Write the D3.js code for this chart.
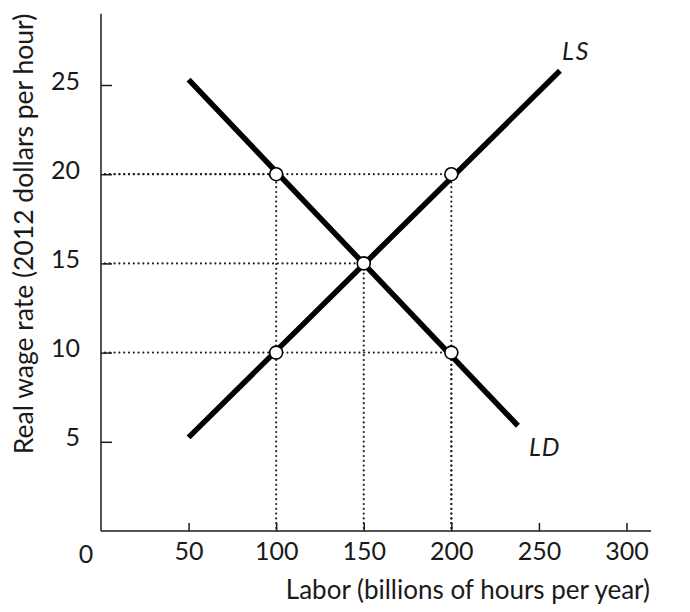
<!DOCTYPE html>
<html>
<head>
<meta charset="utf-8">
<script src="https://cdn.jsdelivr.net/npm/d3@7"></script>
<style>
	body { margin: 0; background: #fff; }
	svg { display: block; }
	.text { font-family: Lato, "Open Sans", sans-serif; fill: #1a1a1a; }
</style>
</head>
<body>
<script>
// curves (labor in billions of hours, wage in 2012 $)
const supplyPts = [[50, 5.25], [262, 25.8]];
const demandPts = [[50, 25.3], [238, 5.9]];

// points marked with a circle
const pointsLabor = [100, 150, 200, 100, 200];
const pointsWage = [20, 15, 20, 10, 10];

// dotted guides : [labor, wage]
const guides = [[100, 20], [150, 15], [200, 20], [200, 10]];

const xTicks = [50, 100, 150, 200, 250, 300];
const yTicks = [5, 10, 15, 20, 25];

const xTitle = "Labor (billions of hours per year)";
const yTitle = "Real wage rate (2012 dollars per hour)";

const size_graph = {x: 690, y: 612};

const svg = d3.select("body")
	.append('svg')
	.attr("width", size_graph.x)
	.attr("height", size_graph.y);

var x = d3.scaleLinear().domain([0, 300]).range([101, 626.5]);
var y = d3.scaleLinear().domain([0, 25]).range([531, 85]);

// dotted lines first, they are under everything
let dotted = function (d) {
	svg.append('path')
		.attr('d', d)
		.attr('fill', 'none')
		.attr('stroke', '#222')
		.attr('stroke-width', 2.2)
		.attr('stroke-linecap', 'round')
		.attr('stroke-dasharray', '0,4.8');
}
guides.forEach(function (g) {
	dotted(`M${x(0) + 4},${y(g[1])}H${x(g[0])}`);
	dotted(`M${x(g[0])},${y(0) - 3}V${y(g[1])}`);
});

// axes
let yAxis = d3.axisLeft(y).tickValues(yTicks).tickSize(-11).tickSizeOuter(0).tickPadding(21);
let xAxis = d3.axisBottom(x).tickValues(xTicks).tickSize(-8).tickSizeOuter(0);

let gy = svg.append('g')
	.attr('transform', `translate(${x(0)},0)`)
	.call(yAxis);
gy.select('.domain').remove();
gy.selectAll('line').attr('stroke', '#1a1a1a').attr('stroke-width', 1.5);
gy.selectAll('text')
	.classed('text', true)
	.attr('dy', 4)
	.style('font-size', '25px');

let gx = svg.append('g')
	.attr('transform', `translate(0,${y(0)})`)
	.call(xAxis);
gx.select('.domain').remove();
gx.selectAll('line').attr('stroke', '#1a1a1a').attr('stroke-width', 1.5);
gx.selectAll('text')
	.classed('text', true)
	.attr('y', 29)
	.attr('dy', 0)
	.style('font-size', '25px');

// axis lines, a bit longer than the ticks
svg.append('line')
	.attr('x1', x(0)).attr('x2', x(0))
	.attr('y1', y(0)).attr('y2', y(29))
	.attr('stroke', '#1a1a1a').attr('stroke-width', 1.5);
svg.append('line')
	.attr('x1', x(0)).attr('x2', x(314))
	.attr('y1', y(0)).attr('y2', y(0))
	.attr('stroke', '#1a1a1a').attr('stroke-width', 1.5);

svg.append('text')
	.text("0")
	.classed('text', true)
	.attr('x', x(0) - 15)
	.attr('y', y(0) + 32)
	.attr('text-anchor', 'middle')
	.style('font-size', '25px');

// titles
svg.append('text')
	.text(xTitle)
	.classed('text', true)
	.attr('x', 650)
	.attr('y', 599)
	.attr('text-anchor', 'end')
	.style('font-size', '26px');

svg.append('text')
	.text(yTitle)
	.classed('text', true)
	.attr('transform', `translate(33,${y(0) - 297}) rotate(-90)`)
	.attr('text-anchor', 'middle')
	.style('font-size', '26.5px');

// supply and demand
let line = d3.line().x(d => x(d[0])).y(d => y(d[1]));

svg.append('path')
	.datum(supplyPts)
	.attr('d', line)
	.attr('fill', 'none')
	.attr('stroke', '#000')
	.attr('stroke-width', 5.5);

svg.append('path')
	.datum(demandPts)
	.attr('d', line)
	.attr('fill', 'none')
	.attr('stroke', '#000')
	.attr('stroke-width', 5.5);

svg.append('text')
	.text("LS")
	.classed('text', true)
	.attr('x', x(supplyPts[1][0]) + 2)
	.attr('y', y(supplyPts[1][1]) - 11)
	.style('font-size', '25px')
	.style('font-style', 'italic')
	.style('letter-spacing', '2px');

svg.append('text')
	.text("LD")
	.classed('text', true)
	.attr('x', x(demandPts[1][0]) + 11)
	.attr('y', y(demandPts[1][1]) + 30)
	.style('font-size', '25px')
	.style('font-style', 'italic')
	.style('letter-spacing', '1px');

// circles on top
svg.selectAll('.pt')
	.data(pointsLabor)
	.enter()
	.append('circle')
	.attr('class', 'pt')
	.attr('cx', d => x(d))
	.attr('cy', (d, i) => y(pointsWage[i]))
	.attr('r', 6.5)
	.attr('fill', '#fff')
	.attr('stroke', '#000')
	.attr('stroke-width', 1.6);
</script>
</body>
</html>
